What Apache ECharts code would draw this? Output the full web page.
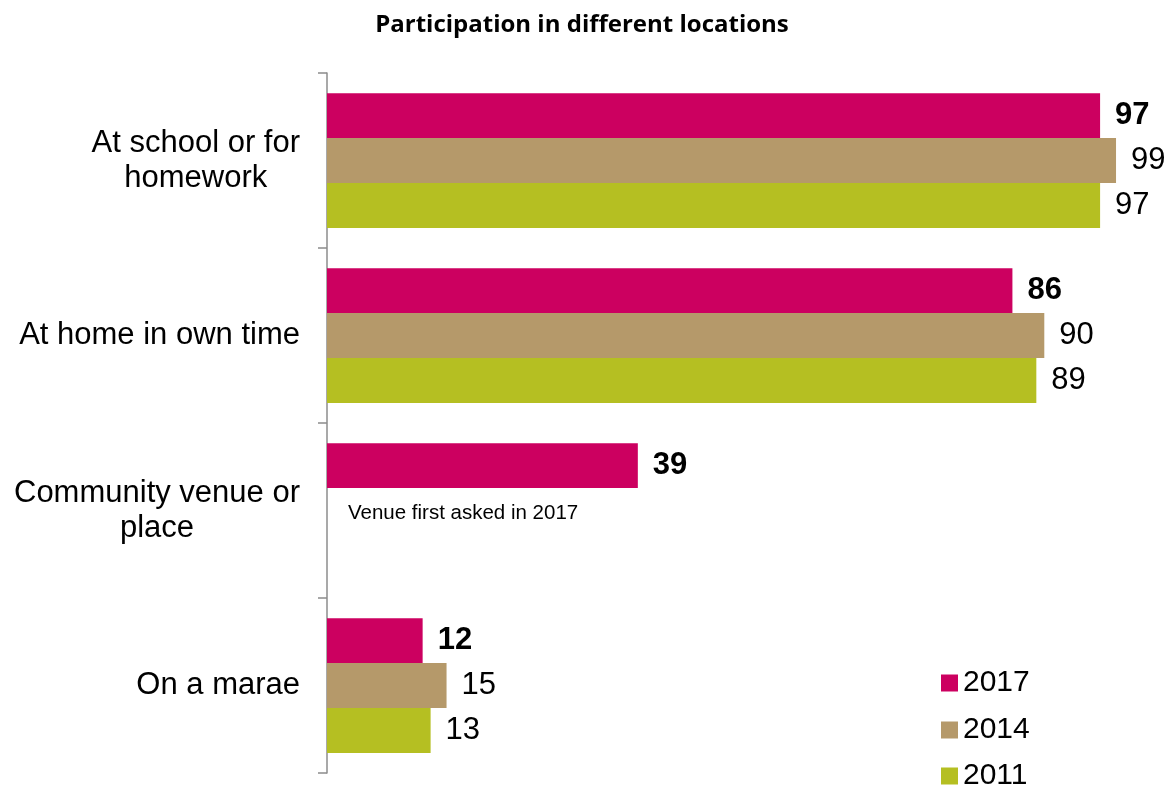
<!DOCTYPE html>
<html>
<head>
<meta charset="utf-8">
<script src="https://cdn.jsdelivr.net/npm/echarts@6/dist/echarts.min.js"></script>
<style>
  html, body { margin: 0; padding: 0; background: #fff; }
  #chart { width: 1175px; height: 787px; }
</style>
</head>
<body>
<div id="chart"></div>
<script>
var categories = ['At school or for\nhomework', 'At home in own time', 'Community venue or\nplace', 'On a marae'];
var years = ['2017', '2014', '2011'];
var values2017 = [97, 86, 39, 12];
var values2014 = [99, 90, null, 15];
var values2011 = [97, 89, null, 13];
var colors = ['#cc0060', '#b5996a', '#b5bf22'];

var chart = echarts.init(document.getElementById('chart'));

function barSeries(name, data, color, bold) {
  return {
    name: name,
    type: 'bar',
    data: data,
    barGap: '0%',
    barCategoryGap: '23%',
    itemStyle: { color: color },
    label: {
      show: true,
      position: 'right',
      distance: 15,
      color: '#000',
      fontFamily: 'Liberation Sans',
      fontSize: 31,
      fontWeight: bold ? 'bold' : 'normal'
    }
  };
}

// one legend per year, stacked in the lower right corner
function legendItem(name, top) {
  return {
    orient: 'vertical',
    left: 941,
    top: top,
    padding: 0,
    itemWidth: 17,
    itemHeight: 17,
    itemGap: 7,
    icon: 'rect',
    data: [name],
    textStyle: { fontFamily: 'Liberation Sans', fontSize: 30, color: '#000' }
  };
}

var option = {
  animation: false,
  title: {
    text: 'Participation in different locations',
    left: 577,
    textAlign: 'center',
    top: 8,
    textStyle: { fontFamily: 'Open Sans', fontWeight: 'bold', fontSize: 24, color: '#000' }
  },
  legend: [
    legendItem(years[0], 668),
    legendItem(years[1], 715),
    legendItem(years[2], 761)
  ],
  grid: { left: 327, right: 51, top: 73, bottom: 14 },
  xAxis: {
    type: 'value',
    min: 0,
    max: 100,
    show: false
  },
  yAxis: {
    type: 'category',
    inverse: true,
    data: categories,
    axisLine: { lineStyle: { color: '#8c8c8c', width: 1.5 } },
    axisTick: { show: true, length: 9, lineStyle: { color: '#8c8c8c', width: 1.5 } },
    axisLabel: {
      margin: 27,
      color: '#000',
      fontFamily: 'Liberation Sans',
      fontSize: 31,
      lineHeight: 35,
      // centre each line of a wrapped label inside its block
      formatter: function (v) {
        return v.split('\n').map(function (s) { return '{c|' + s + '}'; }).join('\n');
      },
      rich: {
        c: { align: 'center', fontFamily: 'Liberation Sans', fontSize: 31, lineHeight: 35, color: '#000' }
      }
    }
  },
  series: [
    barSeries(years[0], values2017, colors[0], true),
    barSeries(years[1], values2014, colors[1], false),
    barSeries(years[2], values2011, colors[2], false)
  ]
};

chart.setOption(option);

// note under the community venue bar
var p = chart.convertToPixel({ gridIndex: 0 }, [0, 2]);
chart.setOption({
  graphic: [{
    type: 'text',
    left: p[0] + 21,
    top: p[1] - 8,
    style: { text: 'Venue first asked in 2017', fontFamily: 'Liberation Sans', fontSize: 20.5, fill: '#000' }
  }]
});
</script>
</body>
</html>
